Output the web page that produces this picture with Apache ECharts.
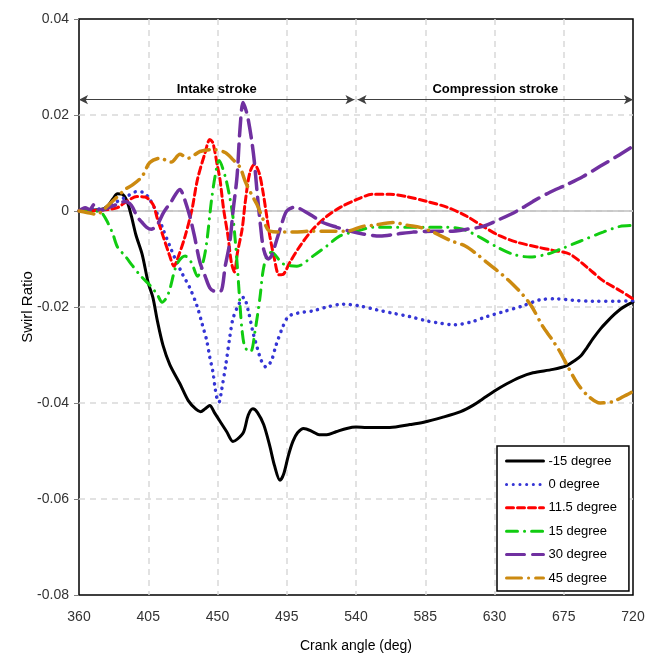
<!DOCTYPE html>
<html>
<head>
<meta charset="utf-8">
<script src="https://cdn.jsdelivr.net/npm/echarts@6/dist/echarts.min.js"></script>
<style>
  html, body { margin: 0; padding: 0; background: #fff; }
  #swirlChart { width: 660px; height: 658px; }
</style>
</head>
<body>
<div id="swirlChart"></div>
<script>
// crank angle (deg) / swirl ratio pairs
let xTicks = [360, 405, 450, 495, 540, 585, 630, 675, 720]
let seriesNames = ['-15 degree', '0 degree', '11.5 degree', '15 degree', '30 degree', '45 degree']

let swirlM15 = [[360,0],[368,0.0002],[374,0.0003],[378,0.0008],[382,0.0025],[385,0.0036],[388,0.0035],[391,0.0022],[394,-0.001],[397,-0.005],[401,-0.009],[405,-0.015],[408,-0.018],[411,-0.023],[414.6,-0.028],[419,-0.032],[425.6,-0.036],[431,-0.0395],[436,-0.0413],[439,-0.0418],[442,-0.0412],[445,-0.0405],[448,-0.042],[452,-0.044],[456,-0.046],[460,-0.048],[463,-0.0475],[467,-0.046],[470,-0.0425],[473,-0.0412],[476,-0.042],[480,-0.0445],[484,-0.049],[487,-0.053],[490.6,-0.0561],[493,-0.0548],[496,-0.051],[499,-0.048],[502,-0.0462],[506,-0.0453],[512,-0.046],[516,-0.0466],[521,-0.0466],[527,-0.046],[534,-0.0453],[540,-0.045],[547,-0.0451],[562,-0.0451],[575,-0.0445],[584,-0.044],[596,-0.043],[608,-0.0418],[616,-0.0405],[622.5,-0.0391],[630,-0.0375],[638,-0.036],[646,-0.0347],[655,-0.0337],[668,-0.033],[677,-0.0322],[682,-0.0312],[686,-0.0302],[690,-0.0285],[694,-0.0266],[699,-0.0245],[703,-0.0231],[708,-0.0215],[712,-0.0204],[716,-0.0196],[720,-0.019]]

let swirl0 = [[360,0],[370,0.0003],[378,0.0008],[385,0.002],[391,0.003],[397,0.004],[401.6,0.0039],[406,0.0024],[411,-0.0007],[414.6,-0.0038],[419,-0.0073],[422,-0.0096],[427,-0.013],[432,-0.016],[436.7,-0.0198],[440,-0.0235],[443,-0.027],[445,-0.0305],[447,-0.0335],[448.5,-0.037],[450,-0.0395],[451,-0.0398],[452.5,-0.0376],[455.5,-0.0318],[458,-0.0262],[460,-0.0225],[463,-0.02],[467,-0.018],[470,-0.0208],[473,-0.0252],[476,-0.0287],[478.5,-0.0312],[481.5,-0.0325],[485,-0.0312],[488,-0.028],[492.6,-0.024],[496,-0.022],[501.7,-0.0213],[512,-0.0208],[521,-0.02],[531.5,-0.0194],[542.6,-0.0198],[553.6,-0.0206],[564,-0.0213],[575,-0.022],[586,-0.0229],[595,-0.0234],[604,-0.0237],[615,-0.0231],[625,-0.022],[635.5,-0.021],[648,-0.0198],[659.6,-0.0185],[670.6,-0.0183],[681,-0.0186],[694,-0.0188],[709.6,-0.0188],[720,-0.0187]]

let swirl115 = [[360,0],[370,0.0001],[379,0.0003],[385,0.0007],[391,0.002],[397.7,0.003],[403,0.0029],[408,0.0014],[411,-0.0017],[414.6,-0.0052],[419,-0.0094],[421.7,-0.0115],[424,-0.01],[429,-0.0052],[433.4,0.0003],[437,0.0066],[442,0.0122],[445,0.0149],[447,0.0142],[450,0.0093],[451.6,0.0066],[454,0.0003],[456.8,-0.0052],[459,-0.0107],[461,-0.0127],[463,-0.0086],[466,-0.0038],[468,0.0018],[471,0.008],[474,0.0097],[477,0.008],[479.6,0.0039],[482,-0.0011],[484,-0.0052],[487,-0.01],[490,-0.0133],[493,-0.0131],[497,-0.0107],[503.6,-0.0073],[512,-0.0038],[521,-0.0011],[530,0.0008],[540.6,0.0024],[551,0.0035],[562,0.0035],[573,0.003],[586,0.002],[599,0.0008],[612,-0.0011],[622.5,-0.0032],[633.6,-0.0052],[644.6,-0.0065],[657.6,-0.0075],[668,-0.0082],[679,-0.009],[690,-0.0117],[700.5,-0.0145],[711.6,-0.0166],[720,-0.0183]]

let swirl15 = [[360,0],[368,0],[374,-0.0002],[378,-0.002],[382,-0.0048],[385,-0.0075],[390,-0.0094],[395,-0.0115],[400,-0.0135],[407,-0.0158],[411,-0.0175],[414,-0.019],[417,-0.018],[419,-0.0163],[423.6,-0.0111],[429,-0.0094],[433,-0.0107],[437,-0.0136],[440.6,-0.0107],[443,-0.0065],[446,0.002],[448.4,0.0072],[451,0.0105],[455,0.0072],[458,0.0028],[460,-0.0011],[461.5,-0.006],[463,-0.012],[464.5,-0.019],[466,-0.025],[468,-0.0285],[471.5,-0.0293],[474.4,-0.025],[477.6,-0.018],[479.6,-0.0125],[482,-0.0095],[485,-0.0086],[492.6,-0.011],[501.6,-0.0115],[512,-0.0094],[521,-0.0073],[529.6,-0.0052],[540.6,-0.0042],[551,-0.0034],[562,-0.0034],[586,-0.0034],[599,-0.0034],[609.5,-0.0038],[620.6,-0.0055],[631.6,-0.0075],[642,-0.009],[653,-0.0096],[664,-0.009],[672.5,-0.008],[685.6,-0.0063],[700.5,-0.0044],[711.6,-0.0032],[720,-0.003]]

let swirl30 = [[360,0],[364,0.0007],[367,0.0003],[370,0.0014],[373,0.0002],[376,0.0003],[379,0.0007],[385,0.0014],[390,0.002],[394,0.0012],[397.7,-0.0011],[401,-0.0024],[404,-0.0034],[407,-0.0038],[411,-0.0028],[415,-0.0003],[420,0.002],[425.6,0.0045],[428,0.003],[432,-0.0011],[435,-0.0052],[438.6,-0.0107],[442,-0.0136],[445,-0.016],[448,-0.0167],[452,-0.0167],[455,-0.0115],[458,-0.0065],[460,-0.0003],[462.7,0.0072],[464.6,0.017],[466.6,0.0226],[468.5,0.021],[470,0.019],[472.4,0.0143],[474,0.0101],[476,0.003],[478,-0.0032],[480,-0.008],[483,-0.01],[485,-0.0094],[488.6,-0.0059],[492,-0.0024],[495,0],[500,0.0008],[510,-0.0007],[518.5,-0.0024],[527.6,-0.0034],[536,-0.0042],[544.5,-0.0048],[555.6,-0.0052],[566.6,-0.0048],[577,-0.0044],[590,-0.0042],[601,-0.0042],[612,-0.0038],[622.5,-0.0032],[633.6,-0.0017],[644.6,0],[655,0.002],[666,0.0039],[677,0.0055],[687.6,0.0072],[698.6,0.0093],[709.6,0.0114],[720,0.0135]]

let swirl45 = [[360,0],[365,-0.0003],[371.7,-0.0007],[375,0],[380,0.0015],[385,0.003],[390,0.0045],[395,0.0055],[401,0.0072],[406,0.0101],[412.6,0.011],[417,0.0105],[420,0.0102],[425.6,0.0118],[431,0.011],[438.6,0.0124],[447,0.0128],[455,0.0122],[460,0.0107],[464.6,0.0091],[468,0.0062],[472,0.0035],[475.6,0.0014],[479.6,-0.0017],[484,-0.0042],[492.6,-0.0044],[500,-0.0044],[510,-0.0042],[521,-0.0042],[534,-0.0042],[544.5,-0.0032],[551,-0.003],[564,-0.0024],[574,-0.003],[581.6,-0.0034],[590,-0.0044],[601,-0.0061],[611,-0.0073],[618.6,-0.009],[625,-0.0107],[635.5,-0.0134],[642,-0.0153],[648.5,-0.0175],[654,-0.0198],[661.5,-0.0241],[667,-0.0266],[672.5,-0.0293],[677.8,-0.0325],[684,-0.036],[690.7,-0.0385],[698.6,-0.04],[707,-0.0397],[713.5,-0.0387],[720,-0.0376]]

// stroke annotations
let strokes = [
  { name: 'Intake stroke', from: 360, to: 539 },
  { name: 'Compression stroke', from: 541, to: 720 }
]
let strokeLevel = 0.0232

let fontFamily = 'Liberation Sans, Arial, sans-serif'

function makeLine(name, data, color, width, dash) {
  return {
    name: name,
    type: 'line',
    data: data,
    symbol: 'none',
    smooth: 0.3,
    lineStyle: { color: color, width: width, type: dash, cap: 'round' },
    itemStyle: { color: color }
  }
}

let chart = echarts.init(document.getElementById('swirlChart'))

let series = [
  makeLine(seriesNames[0], swirlM15, '#000000', 3, 'solid'),
  makeLine(seriesNames[1], swirl0, '#3535d5', 3.5, [0.1, 6.6]),
  makeLine(seriesNames[2], swirl115, '#ff0000', 3, [7, 4]),
  makeLine(seriesNames[3], swirl15, '#11cc11', 3, [11, 7, 0.1, 7]),
  makeLine(seriesNames[4], swirl30, '#7030a0', 3.5, [18, 8]),
  makeLine(seriesNames[5], swirl45, '#cc8a10', 3.5, [15, 7, 0.1, 7])
]

// zero line rides on the first series
series[0].markLine = {
  silent: true,
  symbol: ['none', 'none'],
  z: 1,
  label: { show: false },
  lineStyle: { color: '#bfbfbf', width: 1.5, type: 'solid' },
  data: [{ yAxis: 0 }]
}
// stroke arrows
series.push({
  type: 'line',
  data: [],
  silent: true,
  markLine: {
    silent: true,
    symbol: ['arrow', 'arrow'],
    symbolSize: [7, 9],
    lineStyle: { color: '#404040', width: 1.2, type: 'solid' },
    label: {
      show: true,
      position: 'middle',
      formatter: '{b}',
      color: '#000',
      fontWeight: 'bold',
      fontSize: 13,
      fontFamily: fontFamily,
      distance: 4
    },
    data: strokes.map(s => [
      { coord: [s.from, strokeLevel], name: s.name },
      { coord: [s.to, strokeLevel] }
    ])
  }
})

let gridDash = { color: '#d9d9d9', width: 1.5, type: [6, 5] }

let option = {
  animation: false,
  backgroundColor: '#fff',
  textStyle: { fontFamily: fontFamily },
  grid: {
    left: 79, right: 27, top: 19, bottom: 61,
    show: true,
    borderColor: '#000',
    borderWidth: 1.5
  },
  legend: {
    data: seriesNames,
    orient: 'vertical',
    left: 497,
    top: 446,
    itemWidth: 37,
    itemHeight: 12,
    itemGap: 10.4,
    padding: [8.5, 12, 6.5, 8],
    backgroundColor: '#fff',
    borderColor: '#000',
    borderWidth: 1.5,
    borderRadius: 0,
    itemStyle: { opacity: 0 },
    lineStyle: { width: 3 },
    textStyle: { color: '#000', fontSize: 13, fontFamily: fontFamily }
  },
  xAxis: {
    type: 'value',
    min: 360,
    max: 720,
    interval: 45,
    name: 'Crank angle (deg)',
    nameLocation: 'middle',
    nameGap: 44,
    nameTextStyle: { color: '#000', fontSize: 14, fontFamily: fontFamily },
    axisLine: { show: false },
    axisTick: { show: false },
    axisLabel: { color: '#333', fontSize: 14, margin: 15, fontFamily: fontFamily },
    splitLine: { show: true, showMinLine: false, showMaxLine: false, lineStyle: gridDash }
  },
  yAxis: {
    type: 'value',
    min: -0.08,
    max: 0.04,
    interval: 0.02,
    name: 'Swirl Ratio',
    nameLocation: 'middle',
    nameGap: 44,
    nameMoveOverlap: false,
    nameTextStyle: { color: '#000', fontSize: 15, fontFamily: fontFamily },
    axisLine: { show: false },
    axisTick: { show: true, length: 5, lineStyle: { color: '#808080' } },
    axisLabel: {
      color: '#333',
      fontSize: 14,
      margin: 10,
      fontFamily: fontFamily,
      formatter: v => Math.abs(v) < 1e-9 ? '0' : v.toFixed(2)
    },
    splitLine: { show: true, showMinLine: false, showMaxLine: false, lineStyle: gridDash }
  },
  series: series
}

chart.setOption(option)
</script>
</body>
</html>
